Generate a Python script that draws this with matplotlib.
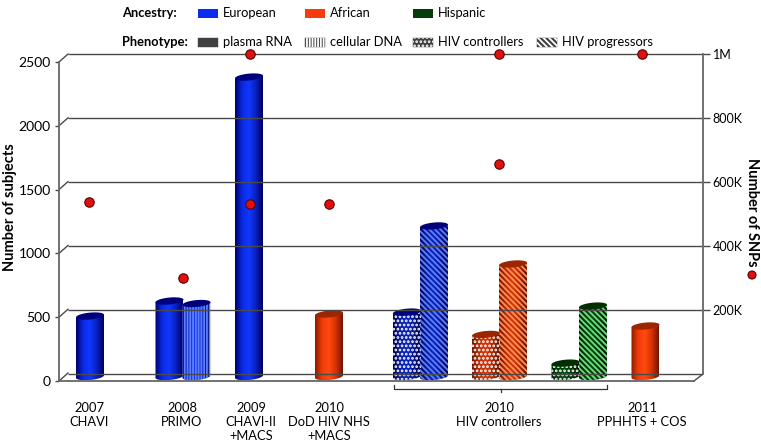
import numpy as np
import matplotlib
matplotlib.use("Agg")
from matplotlib import pyplot as plt
from matplotlib.colors import LinearSegmentedColormap
from matplotlib.patches import Polygon, Rectangle, Circle

plt.rcParams['font.family'] = ['Lato', 'DejaVu Sans']
plt.rcParams['hatch.linewidth'] = 1.3

# one row per cylinder
bar_names = ['CHAVI', 'PRIMO', 'PRIMO', 'CHAVI-II', 'DoD', 'HIV', 'HIV', 'HIV', 'HIV', 'HIV', 'HIV', 'PPHHTS']
bar_subjects = [474, 592, 572, 2347, 490, 505, 1180, 330, 882, 105, 552, 396]
bar_ancestry = ['eur', 'eur', 'eur', 'eur', 'afr', 'eur', 'eur', 'afr', 'afr', 'his', 'his', 'afr']
bar_pheno = ['rna', 'rna', 'dna', 'rna', 'rna', 'ctrl', 'prog', 'ctrl', 'prog', 'ctrl', 'prog', 'rna']
bar_x = [90, 169.5, 196.5, 249, 329, 407, 434, 486, 513, 565.5, 593, 645.5]

# red dots
snp_x = [89, 183, 250, 250, 329, 499, 499, 642]
snp_vals = [537000, 300000, 1000000, 531000, 531000, 1000000, 656000, 1000000]

study_x = [89, 182, 251, 329, 499, 642]
study_labels = ['2007\nCHAVI', '2008\nPRIMO', '2009\nCHAVI-II\n+MACS', '2010\nDoD HIV NHS\n+MACS',
                '2010\nHIV controllers', '2011\nPPHHTS + COS']

subject_ticks = [0, 500, 1000, 1500, 2000, 2500]
snp_ticks = [200000, 400000, 600000, 800000, 1000000]
snp_tick_labels = ['200K', '400K', '600K', '800K', '1M']

ramps = {'eur': ['#00006a', '#0a2ae0', '#0f38ff', '#0a20c0', '#000060'],
         'afr': ['#8a1c00', '#f03c08', '#ff4a10', '#d83000', '#701400'],
         'his': ['#002800', '#055a10', '#086a14', '#044a0c', '#001e00']}
dark_ramps = {'eur': ['#00004a', '#0a1ea0', '#0a28c0', '#081890', '#000048'],
              'afr': ['#6a1400', '#c02c04', '#d83808', '#b02800', '#561000'],
              'his': ['#001c00', '#03400a', '#044a0e', '#033408', '#001400']}
lids = {'eur': '#00007c', 'afr': '#9c2600', 'his': '#003000'}
swatches = {'eur': '#0a2cf0', 'afr': '#f53c0a', 'his': '#063c0a'}
lights = {'eur': '#5f80ff', 'afr': '#ff9058', 'his': '#6fe07f'}
hatches = {'rna': None, 'dna': '||||||', 'ctrl': '....', 'prog': '\\\\\\\\\\\\'}

W, H = 761, 444
fig = plt.figure(figsize=(W / 100, H / 100), dpi=100)
ax = fig.add_axes([59 / W, (H - 381) / H, (703 - 59) / W, (381 - 50) / H])
ax.set_xlim(59, 703)
ax.set_ylim(0, (381 - 50) / 0.1276)
ax.patch.set_alpha(0)

# drawing layer in pixels, for walls, legend and side labels
pg = fig.add_axes([0, 0, 1, 1], zorder=-1)
pg.set_xlim(0, W)
pg.set_ylim(H, 0)
pg.axis('off')

ax2 = ax.twinx()
ax2.set_ylim(-7 / 0.00032, (374 - 50) / 0.00032)
ax2.patch.set_alpha(0)

wall = '#4a4a4a'
ax.spines['top'].set_visible(False)
ax2.spines['top'].set_visible(False)
ax.spines['right'].set_visible(False)
ax2.spines['left'].set_visible(False)
ax2.spines['bottom'].set_visible(False)
ax.spines['left'].set_bounds(0, 2500)
ax.spines['bottom'].set_bounds(59, 694)
ax2.spines['right'].set_bounds(0, 1000000)
for sp in [ax.spines['left'], ax.spines['bottom'], ax2.spines['right']]:
    sp.set_color('#666666')
    sp.set_linewidth(1.3)

ax.set_yticks(subject_ticks)
ax.tick_params(axis='y', length=3, width=1, color=wall, labelsize=10, pad=3)
ax.set_xticks(study_x)
ax.set_xticklabels(study_labels, fontsize=9.3, linespacing=1.2)
ax.tick_params(axis='x', length=0, pad=15)
ax2.set_yticks(snp_ticks)
ax2.set_yticklabels(snp_tick_labels)
ax2.tick_params(axis='y', length=5, width=1, color=wall, labelsize=9, pad=2)

# back wall lines and the slanted bits on the left wall
ax2.hlines([0] + snp_ticks, 68, 703, color=wall, lw=1.0, zorder=1)
for v in subject_ticks:
    ax.plot([59, 68], [v, v + 8 / 0.1276 - 0.3], color=wall, lw=1.0, zorder=1)
pg.plot([694, 703], [381, 374], color=wall, lw=1.0)


def draw_cylinder(cx, val, anc, pheno, half=14):
    base = 35
    top = base + val
    t = np.linspace(0, np.pi, 60)
    xs = cx + half * np.cos(t)
    # front of the cylinder seen from above
    outline = np.concatenate([
        np.c_[xs[::-1], top + 10 * np.cos(t[::-1])],
        np.c_[xs, base + 10 * np.cos(t) - 27 * np.sin(t)],
    ])
    body = Polygon(outline, closed=True, fc='none', ec='none', zorder=3)
    ax.add_patch(body)
    ramp = dark_ramps[anc] if pheno in ['ctrl', 'prog'] else ramps[anc]
    cmap = LinearSegmentedColormap.from_list('c', ramp)
    im = ax.imshow(np.linspace(0, 1, 64)[None, :], extent=[cx - half, cx + half, base - 30, top + 15],
                   aspect='auto', cmap=cmap, zorder=3, interpolation='bilinear')
    im.set_clip_path(body)
    if hatches[pheno]:
        col = '#ffffff' if pheno == 'ctrl' else lights[anc]
        ax.add_patch(Polygon(outline, closed=True, fc='none', ec=col, lw=0,
                             hatch=hatches[pheno], zorder=4))
    # lid
    t2 = np.linspace(0, 2 * np.pi, 80)
    lid = np.c_[cx + half * np.cos(t2), top + 10 * np.cos(t2) + 27 * np.sin(t2)]
    ax.add_patch(Polygon(lid, closed=True, fc=lids[anc], ec='none', zorder=5))


for cx, val, anc, ph in zip(bar_x, bar_subjects, bar_ancestry, bar_pheno):
    draw_cylinder(cx, val, anc, ph)

ax.set_xlim(59, 703)
ax.set_ylim(0, (381 - 50) / 0.1276)
ax2.set_zorder(ax.get_zorder() + 1)

ax2.scatter(snp_x, snp_vals, s=46, c='#e01010', edgecolors='#5a0000', linewidths=0.8, zorder=6, clip_on=False)

# bracket under HIV controllers
pg.plot([394, 394, 607, 607], [385, 389, 389, 385], color='#333333', lw=0.9)
pg.plot([500.5, 500.5], [389, 392], color='#333333', lw=0.9)

# axis titles
pg.text(10, 207, 'Number of subjects', rotation=90, ha='center', va='center', fontsize=10.5, fontweight='bold')
pg.text(752, 212, 'Number of SNPs', rotation=270, ha='center', va='center', fontsize=10.5, fontweight='bold')
pg.add_patch(Circle((752, 275), 4, fc='#e01010', ec='#5a0000', lw=0.8))

# legend
pg.text(122, 13, 'Ancestry:', fontsize=9.3, fontweight='bold', va='center')
pg.text(122, 42, 'Phenotype:', fontsize=9.3, fontweight='bold', va='center')
leg1 = [(198, 'eur', 'European'), (305, 'afr', 'African'), (413, 'his', 'Hispanic')]
for x0, k, name in leg1:
    pg.add_patch(Rectangle((x0, 9), 20, 9, fc=swatches[k], ec='none'))
    pg.text(x0 + 25, 13, name, fontsize=9.3, va='center')
leg2 = [(198, 'rna', 'plasma RNA'), (305, 'dna', 'cellular DNA'),
        (413, 'ctrl', 'HIV controllers'), (537, 'prog', 'HIV progressors')]
for x0, k, name in leg2:
    pg.add_patch(Rectangle((x0, 38), 20, 9, fc='#404040', ec='#404040', lw=0.3))
    if hatches[k]:
        pg.add_patch(Rectangle((x0, 38), 20, 9, fc='none', ec='white', lw=0, hatch=hatches[k]))
    pg.text(x0 + 25, 42, name, fontsize=9.3, va='center')

fig.savefig('out.png', dpi=100)
